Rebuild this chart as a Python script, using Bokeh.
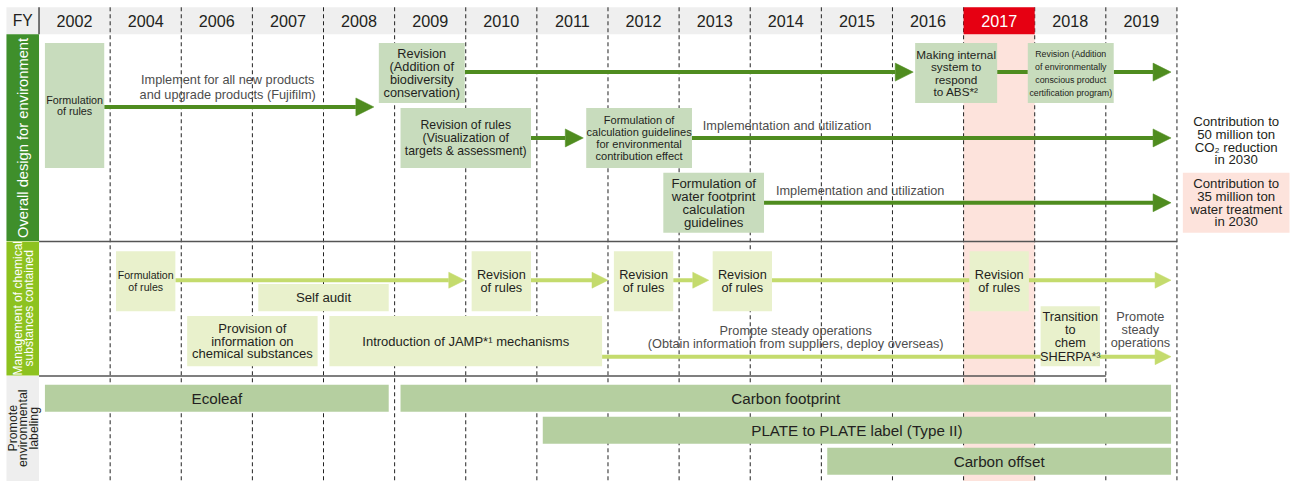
from math import pi
from bokeh.plotting import figure
from bokeh.models import Range1d, ColumnDataSource, Arrow, NormalHead
from bokeh.core.properties import value
from bokeh.embed import file_html
from bokeh.resources import INLINE

# ---------------- data ----------------
years = ["2002", "2004", "2006", "2007", "2008", "2009", "2010", "2011",
         "2012", "2013", "2014", "2015", "2016", "2017", "2018", "2019"]
highlight_year = "2017"
section_titles = ["Overall design for environment",
                  "Management of chemical\nsubstances contained",
                  "Promote\nenvironmental\nlabeling"]

# Section 1: overall design for environment (positions in year-column units)
env_labels = ["Formulation\nof rules",
              "Revision\n(Addition of\nbiodiversity\nconservation)",
              "Making internal\nsystem to\nrespond\nto ABS*²",
              "Revision (Addition\nof environmentally\nconscious product\ncertification program)",
              "Revision of rules\n(Visualization of\ntargets & assessment)",
              "Formulation of\ncalculation guidelines\nfor environmental\ncontribution effect",
              "Formulation of\nwater footprint\ncalculation\nguidelines"]
env_start = [0.083, 4.778, 12.319, 13.903, 5.083, 7.694, 8.778]
env_end = [0.917, 5.986, 13.472, 15.111, 6.917, 9.181, 10.194]

env_arrow_start = [0.917, 5.986, 15.111, 6.917, 9.181, 10.194]
env_arrow_end = [4.708, 12.292, 15.917, 7.653, 15.917, 15.917]
env_link_start = [13.472]
env_link_end = [13.903]

env_notes = ["Implement for all new products\nand upgrade products (Fujifilm)",
             "Implementation and utilization",
             "Implementation and utilization"]
env_note_x = [2.653, 9.333, 10.361]

goal_labels = ["Contribution to\n50 million ton\nCO₂ reduction\nin 2030",
               "Contribution to\n35 million ton\nwater treatment\nin 2030"]
goal_start = [16.083, 16.083]
goal_end = [17.583, 17.583]

# Section 2: management of chemical substances
chem_labels = ["Formulation\nof rules", "Self audit",
               "Provision of\ninformation on\nchemical substances",
               "Introduction of JAMP*¹ mechanisms",
               "Revision\nof rules", "Revision\nof rules", "Revision\nof rules",
               "Revision\nof rules", "Transition\nto\nchem\nSHERPA*³"]
chem_start = [1.083, 3.083, 2.083, 4.083, 6.083, 8.083, 9.472, 13.083, 14.083]
chem_end = [1.917, 4.917, 3.917, 7.917, 6.917, 8.917, 10.306, 13.917, 14.917]

chem_arrow_start = [1.917, 6.917, 8.917, 13.917, 7.917]
chem_arrow_end = [5.986, 8.000, 9.417, 15.917, 15.917]
chem_link_start = [10.306]
chem_link_end = [13.083]

chem_notes = ["Prompte steady operations\n(Obtain information from suppliers, deploy overseas)",
              "Promote\nsteady\noperations"]
chem_note_x = [10.639, 15.486]

# Section 3: environmental labeling
label_names = ["Ecoleaf", "Carbon footprint", "PLATE to PLATE label (Type II)", "Carbon offset"]
label_start = [0.083, 5.083, 7.083, 11.083]
label_end = [4.917, 15.917, 15.917, 15.917]

# ---------------- layout (rows in reference pixels) ----------------
HDR = (7, 35)
SEC = [(35, 249), (249, 388), (388, 497)]
env_rows = [(44, 173), (44, 106), (44, 106), (44, 106), (111, 173), (111, 173), (178, 240)]
env_arrow_y = [110, 74, 74, 142, 142, 209]
env_link_y = [74]
env_note_y = [89.5, 129, 196]
goal_rows = [(118, 172), (178, 240)]
chem_rows = [(259, 321), (293, 321), (326, 378), (326, 378), (259, 321), (259, 321),
             (259, 321), (259, 321), (316, 378)]
chem_arrow_y = [289, 289, 289, 289, 368]
chem_link_y = [289]
chem_note_y = [347.5, 340]
label_rows = [(397, 425), (397, 425), (430, 458), (462, 490)]

FONT = "Liberation Sans"
DARK = "#231f20"
GREY = "#4d4d4d"
C_DGREEN = "#3f8f2b"
C_LIME = "#8dc21f"
C_ARROW = "#4f8c1f"
C_LARROW = "#c4db6d"
C_BOX1 = "#c8dcbd"
C_BOX2 = "#e9f1cc"
C_BOX3 = "#b5cfa0"
C_PINK = "#fde3dc"
C_RED = "#e60012"

LEFT = -0.458
NCOL = len(years)
SCALE = 0.98


def fs(s):
    return f"{s * SCALE:.2f}px"


p = figure(width=1295, height=481, x_range=Range1d(-0.5417, 17.667), y_range=Range1d(497, 0),
           output_backend="svg", toolbar_location=None, x_axis_type=None, y_axis_type=None,
           min_border=0)
p.grid.visible = False
p.outline_line_color = None
p.background_fill_color = "white"
p.border_fill_color = "white"

hi = years.index(highlight_year)

# header band and highlight column (bottom-most level)
p.quad(left=[LEFT], right=[NCOL], top=[HDR[0]], bottom=[HDR[1]], fill_color="#efefef",
       line_color=None, level="image")
p.quad(left=[hi], right=[hi + 1], top=[HDR[1]], bottom=[SEC[2][1]], fill_color=C_PINK,
       line_color=None, level="image")

# dashed column lines
p.segment(x0=list(range(1, NCOL + 1)), x1=list(range(1, NCOL + 1)),
          y0=[HDR[0]] * NCOL, y1=[SEC[2][1]] * NCOL,
          line_color="#222222", line_width=1, line_dash="4 3", level="image")
p.quad(left=[hi], right=[hi + 1], top=[HDR[0]], bottom=[HDR[1]], fill_color=C_RED,
       line_color=None, level="image")
p.segment(x0=[0], x1=[0], y0=[HDR[0]], y1=[HDR[1]], line_color="#222222", line_width=1.2, level="image")

# section separators
p.segment(x0=[0, 0], x1=[NCOL, NCOL - 1], y0=[SEC[0][1], SEC[1][1]], y1=[SEC[0][1], SEC[1][1]],
          line_color="#555555", line_width=1.5, level="image")

# left section title boxes
p.quad(left=[LEFT] * 3, right=[0] * 3, top=[s[0] for s in SEC], bottom=[s[1] - 0.5 for s in SEC],
       fill_color=[C_DGREEN, C_LIME, "#eeeeee"], line_color=None)


def add_text(xs, ys, texts, size, color, lh=1.0, align="center", angle=0.0):
    src = ColumnDataSource(dict(x=xs, y=ys, t=texts))
    p.text(x="x", y="y", text="t", source=src, text_align=align, text_baseline="middle",
           text_font=value(FONT), text_font_size=fs(size), text_color=color,
           text_line_height=lh, angle=angle)


# header texts
add_text([LEFT / 2], [21], ["FY"], 16, DARK)
add_text([i + 0.5 for i in range(NCOL) if i != hi], [21] * (NCOL - 1),
         [y for i, y in enumerate(years) if i != hi], 16.5, DARK)
add_text([hi + 0.5], [21], [years[hi]], 16.5, "white")

# section titles
add_text([LEFT / 2], [142], [section_titles[0]], 15, "white", angle=pi / 2)
add_text([LEFT / 2 + 0.01], [318], [section_titles[1]], 12.3, "white", lh=0.78, angle=pi / 2)
add_text([LEFT / 2 + 0.01], [442], [section_titles[2]], 12.6, DARK, lh=0.72, angle=pi / 2)

# ---- section 1 ----
p.segment(x0=env_link_start, x1=env_link_end, y0=env_link_y, y1=env_link_y, line_color=C_ARROW,
          line_width=4, level="underlay")
asrc = ColumnDataSource(dict(x0=env_arrow_start, x1=env_arrow_end, y=env_arrow_y))
p.add_layout(Arrow(end=NormalHead(size=18, fill_color=C_ARROW, line_color=C_ARROW, line_width=0.5),
                   x_start="x0", y_start="y", x_end="x1", y_end="y", source=asrc,
                   line_color=C_ARROW, line_width=4, level="underlay"))
p.quad(left=env_start, right=env_end, top=[r[0] for r in env_rows], bottom=[r[1] for r in env_rows],
       fill_color=C_BOX1, line_color=None)
env_style = [(11, 0.91), (13, 0.87), (12, 0.95), (9, 1.30), (12.5, 0.94), (11.3, 1.0), (13.5, 0.86)]
for i, lab in enumerate(env_labels):
    s, lh = env_style[i]
    add_text([(env_start[i] + env_end[i]) / 2], [(env_rows[i][0] + env_rows[i][1]) / 2], [lab], s, DARK, lh=lh)

add_text([env_note_x[0]], [env_note_y[0]], [env_notes[0]], 13, GREY, lh=0.99)
add_text(env_note_x[1:], env_note_y[1:], env_notes[1:], 13, GREY, align="left")

p.quad(left=[goal_start[1]], right=[goal_end[1]], top=[goal_rows[1][0]], bottom=[goal_rows[1][1]],
       fill_color=C_PINK, line_color=None)
add_text([(a + b) / 2 for a, b in zip(goal_start, goal_end)], [(r[0] + r[1]) / 2 for r in goal_rows],
         goal_labels, 13.5, DARK, lh=0.84)

# ---- section 2 ----
p.segment(x0=chem_link_start, x1=chem_link_end, y0=chem_link_y, y1=chem_link_y, line_color=C_LARROW,
          line_width=4, level="underlay")
csrc = ColumnDataSource(dict(x0=chem_arrow_start, x1=chem_arrow_end, y=chem_arrow_y))
p.add_layout(Arrow(end=NormalHead(size=16, fill_color=C_LARROW, line_color=C_LARROW, line_width=0.5),
                   x_start="x0", y_start="y", x_end="x1", y_end="y", source=csrc,
                   line_color=C_LARROW, line_width=4, level="underlay"))
p.quad(left=chem_start, right=chem_end, top=[r[0] for r in chem_rows], bottom=[r[1] for r in chem_rows],
       fill_color=C_BOX2, line_color=None)
chem_style = [(10.8, 1.05), (13.5, 1.0), (13.3, 0.82), (13.3, 1.0)] + [(13, 0.875)] * 4 + [(13, 0.875)]
for i, lab in enumerate(chem_labels):
    s, lh = chem_style[i]
    add_text([(chem_start[i] + chem_end[i]) / 2], [(chem_rows[i][0] + chem_rows[i][1]) / 2], [lab], s, DARK, lh=lh)
add_text([chem_note_x[0]], [chem_note_y[0]], [chem_notes[0]], 13, GREY, lh=0.855)
add_text([chem_note_x[1]], [chem_note_y[1]], [chem_notes[1]], 13, GREY, lh=0.89)

# ---- section 3 ----
p.quad(left=label_start, right=label_end, top=[r[0] for r in label_rows], bottom=[r[1] for r in label_rows],
       fill_color=C_BOX3, line_color=None)
add_text([(a + b) / 2 for a, b in zip(label_start, label_end)], [(r[0] + r[1]) / 2 for r in label_rows],
         label_names, 15.5, DARK)

open("out.html", "w").write(file_html(p, INLINE))
